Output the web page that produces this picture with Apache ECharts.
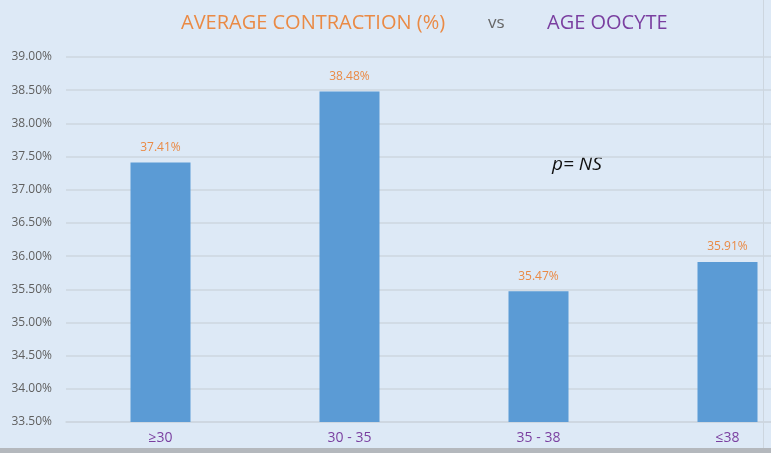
<!DOCTYPE html>
<html>
<head>
<meta charset="utf-8">
<script src="https://cdn.jsdelivr.net/npm/echarts@6/dist/echarts.min.js"></script>
<style>
html,body{margin:0;padding:0;background:#dde9f6;overflow:hidden;width:771px;height:453px;}
#c{width:822px;height:453px;}
</style>
</head>
<body>
<div id="c"></div>
<script>
const categories = ['≥30', '30 - 35', '35 - 38', '≤38'];
const values = [37.41, 38.48, 35.47, 35.91];
const yMin = 33.5, yMax = 39, yStep = 0.5;

const chart = echarts.init(document.getElementById('c'));
chart.setOption({
  backgroundColor: '#dde9f6',
  animation: false,
  title: {
    left: 176, top: 8,
    text: '{o|AVERAGE CONTRACTION (%)}{g|vs}{p|AGE OOCYTE}',
    textStyle: {
      fontWeight: 'normal',
      rich: {
        o: {fontFamily: 'Open Sans', fontSize: 20, fontWeight: 'normal', color: '#ea8a45', width: 307},
        g: {fontFamily: 'Open Sans', fontSize: 17, fontWeight: 'normal', color: '#666666', width: 59},
        p: {fontFamily: 'Open Sans', fontSize: 20, fontWeight: 'normal', color: '#7a3fa0'}
      }
    }
  },
  grid: {left: 66, top: 57, right: 0, bottom: 31, containLabel: false},
  xAxis: {
    type: 'category',
    data: categories,
    axisTick: {show: false},
    axisLine: {show: true, lineStyle: {color: '#cdd6df', width: 1.5}},
    axisLabel: {color: '#7a3fa0', fontSize: 14, fontFamily: 'Open Sans', margin: 9}
  },
  yAxis: {
    type: 'value',
    min: yMin, max: yMax, interval: yStep,
    axisLine: {show: false},
    axisTick: {show: false},
    splitLine: {lineStyle: {color: '#cdd6df', width: 1.5}},
    axisLabel: {
      color: '#606060', fontSize: 12, fontFamily: 'Open Sans', margin: 14,
      formatter: v => v.toFixed(2) + '%'
    }
  },
  series: [{
    type: 'bar',
    data: values,
    barWidth: 60,
    itemStyle: {color: '#5b9bd5'},
    label: {
      show: true, position: 'top', distance: 9,
      color: '#ea8a45', fontSize: 12, fontFamily: 'Open Sans',
      formatter: p => p.value.toFixed(2) + '%'
    }
  }],
  graphic: [
    {type: 'text', left: 552, top: 155,
     style: {text: 'p= NS', font: 'italic 19px "Open Sans"', fill: '#111111'}},
    {type: 'rect', left: 0, top: 448, shape: {width: 822, height: 5},
     style: {fill: '#b4b8bd'}},
    {type: 'rect', left: 764, top: 0, shape: {width: 58, height: 448},
     style: {fill: '#dde9f6'}},
    {type: 'rect', left: 763, top: 0, shape: {width: 1, height: 448},
     style: {fill: '#cdd6df'}}
  ]
});
</script>
</body>
</html>
